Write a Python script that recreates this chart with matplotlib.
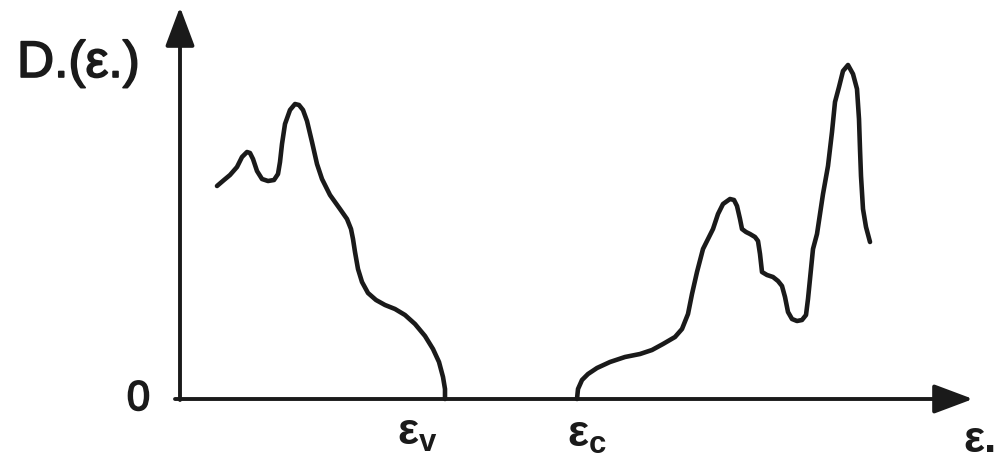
import matplotlib
matplotlib.use("Agg")
import matplotlib.pyplot as plt
import matplotlib.patheffects as pe

plt.rcParams["font.family"] = ["Liberation Sans", "DejaVu Sans"]
plt.rcParams["mathtext.fontset"] = "custom"
plt.rcParams["mathtext.rm"] = "Liberation Sans:bold"
plt.rcParams["mathtext.it"] = "Liberation Sans:bold:italic"
plt.rcParams["mathtext.bf"] = "Liberation Sans:bold"

# energy / density of states in arbitrary units
valence_energy = [37, 44, 50, 57, 62, 67, 70, 73, 77, 82, 88, 94, 98, 100, 102, 105, 110,
                  115, 119, 123, 127, 132, 137, 142, 150, 160, 167, 171, 173, 175, 178,
                  182, 188, 196, 205, 215, 225, 235, 245, 253, 259, 263, 265, 265]
valence_dos = [213, 219, 224, 232, 242, 247, 246, 240, 228, 220, 218, 219, 225, 237, 255,
               275, 289, 295, 294, 289, 278, 257, 235, 220, 204, 190, 180, 170, 160, 147,
               130, 117, 106, 99, 94, 90, 84, 75, 63, 50, 37, 22, 10, 0]

conduction_energy = [397, 398, 402, 408, 417, 430, 445, 460, 472, 483, 495, 502, 508, 512,
                     517, 523, 528, 533, 538, 543, 550, 554, 557, 560, 562, 566, 570, 575,
                     578, 580, 582, 587, 593, 598, 602, 605, 608, 612, 617, 622, 626, 628,
                     630, 633, 637, 643, 648, 652, 655, 659, 663, 668, 673, 677, 679, 680,
                     681, 683, 686, 690]
conduction_dos = [0, 10, 19, 25, 31, 37, 42, 45, 49, 55, 62, 70, 85, 105,
                  127, 150, 160, 170, 185, 195, 200, 199, 193, 180, 170, 167, 165, 162,
                  158, 145, 127, 124, 122, 118, 113, 102, 87, 80, 78, 79, 84, 100,
                  120, 150, 165, 205, 233, 267, 297, 312, 328, 334, 325, 310, 280, 250,
                  223, 190, 172, 157]

ink = "#1a1a1a"
heavy = [pe.withStroke(linewidth=1.2, foreground=ink)]

fig = plt.figure(figsize=(9.96, 4.6), dpi=100)
ax = fig.add_axes([0, 0, 1, 1])
ax.set_xlim(-180, 816)
ax.set_ylim(-60, 400)
ax.axis("off")

# axes drawn as arrows
arrow = dict(arrowstyle="-|>,head_length=1.2,head_width=0.45", color=ink, lw=2.8,
             shrinkA=0, shrinkB=0, mutation_scale=20)
ax.annotate("", xy=(793, 0), xytext=(-5, 0), arrowprops=arrow)
ax.annotate("", xy=(0, 392), xytext=(0, -1), arrowprops=arrow)

for e, d in [(valence_energy, valence_dos), (conduction_energy, conduction_dos)]:
    ax.plot(e, d, color=ink, lw=3.3, solid_joinstyle="round", solid_capstyle="round")

ax.text(-163, 322, "D.(ε.)", fontsize=37, color=ink, ha="left", va="baseline",
        path_effects=heavy)
ax.text(-30, 0, "0", fontsize=30, color=ink, ha="right", va="center", path_effects=heavy)
ax.text(217, -45, r"$\mathrm{ε}_\mathrm{v}$", fontsize=32, color=ink, ha="left", va="baseline")
ax.text(387, -47, r"$\mathrm{ε}_\mathrm{c}$", fontsize=32, color=ink, ha="left", va="baseline")
ax.text(783, -52, "ε.", fontsize=32, color=ink, ha="left", va="baseline", fontweight="bold")

fig.savefig("out.png", dpi=100, facecolor="white")
